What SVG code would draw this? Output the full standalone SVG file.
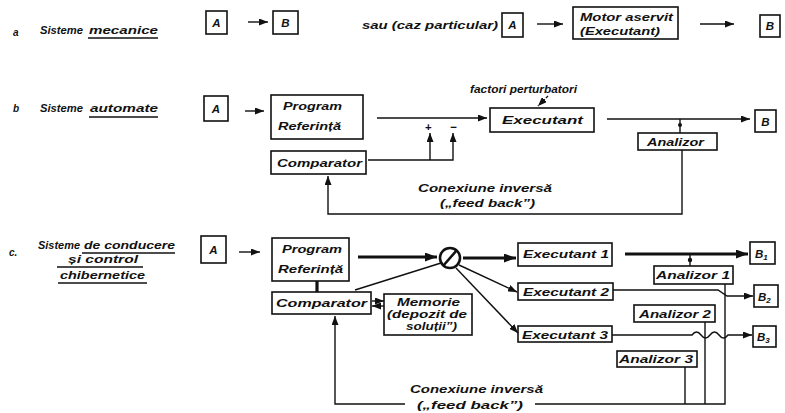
<svg xmlns="http://www.w3.org/2000/svg" width="785" height="413" viewBox="0 0 785 413">
<defs>
<style>
.t{font-family:"Liberation Sans",Arial,sans-serif;font-style:italic;font-weight:bold;font-size:11.5px;fill:#111}
.s{font-size:10px}
.m{text-anchor:middle}
.box{fill:#fff;stroke:#111;stroke-width:1.6}
.ln{fill:none;stroke:#111;stroke-width:1.4}
.th{fill:none;stroke:#111;stroke-width:3.2}
</style>
<marker id="ah" markerWidth="9" markerHeight="7" refX="9" refY="3.5" orient="auto" markerUnits="userSpaceOnUse"><path d="M0,0 L9,3.5 L0,7 z" fill="#111"/></marker>
<marker id="ahb" markerWidth="12" markerHeight="9" refX="12" refY="4.5" orient="auto" markerUnits="userSpaceOnUse"><path d="M0,0 L12,4.5 L0,9 z" fill="#111"/></marker>
</defs>
<rect width="785" height="413" fill="#fff"/>

<!-- labels -->
<g id="label-a">
<text class="t s" x="13" y="36">a</text>
<text class="t" x="40" y="34" textLength="43" lengthAdjust="spacingAndGlyphs">Sisteme</text>
<text class="t" x="89" y="34" textLength="69" lengthAdjust="spacingAndGlyphs">mecanice</text>
<line class="ln" x1="88" y1="38" x2="158" y2="38"/>
<text class="t" x="362" y="29" textLength="136" lengthAdjust="spacingAndGlyphs">sau (caz particular)</text>
</g>
<g id="label-b">
<text class="t s" x="13" y="112">b</text>
<text class="t" x="40" y="112" textLength="43" lengthAdjust="spacingAndGlyphs">Sisteme</text>
<text class="t" x="90" y="112" textLength="68" lengthAdjust="spacingAndGlyphs">automate</text>
<line class="ln" x1="89" y1="117" x2="158" y2="117"/>
</g>
<g id="label-c">
<text class="t s" x="9" y="256">c.</text>
<text class="t s" x="38" y="249" textLength="42" lengthAdjust="spacingAndGlyphs">Sisteme</text>
<text class="t s" x="84" y="249" textLength="91" lengthAdjust="spacingAndGlyphs">de conducere</text>
<line class="ln" x1="82" y1="253" x2="175" y2="253"/>
<text class="t s" x="68" y="263" textLength="70" lengthAdjust="spacingAndGlyphs">și control</text>
<line class="ln" x1="57" y1="267" x2="143" y2="267"/>
<text class="t s" x="60" y="279" textLength="85" lengthAdjust="spacingAndGlyphs">chibernetice</text>
<line class="ln" x1="58" y1="283" x2="147" y2="283"/>
</g>

<!-- row a nodes -->
<g id="a-A"><rect class="box" x="206" y="11" width="21" height="23"/><text class="t m" x="216.5" y="27">A</text></g>
<g id="a-B"><rect class="box" x="273" y="11" width="25" height="23"/><text class="t m" x="285.5" y="27">B</text></g>
<g id="a-A2"><rect class="box" x="502" y="13" width="21" height="24"/><text class="t m" x="512.5" y="29">A</text></g>
<g id="a-motor"><rect class="box" x="573" y="7" width="105" height="32"/>
<text class="t" x="580" y="21" textLength="93" lengthAdjust="spacingAndGlyphs">Motor aservit</text>
<text class="t" x="580" y="35" textLength="80" lengthAdjust="spacingAndGlyphs">(Executant)</text></g>
<g id="a-B2"><rect class="box" x="760" y="15" width="20" height="22"/><text class="t m" x="770" y="30">B</text></g>

<!-- row b nodes -->
<g id="b-A"><rect class="box" x="204" y="96" width="24" height="25"/><text class="t m" x="216" y="113">A</text></g>
<g id="b-program"><rect class="box" x="271" y="95" width="92" height="44"/>
<text class="t" x="283" y="110" textLength="59" lengthAdjust="spacingAndGlyphs">Program</text>
<text class="t" x="278" y="130" textLength="63" lengthAdjust="spacingAndGlyphs">Referință</text></g>
<g id="b-comparator"><rect class="box" x="271" y="151" width="95" height="23"/>
<text class="t" x="277" y="167" textLength="85" lengthAdjust="spacingAndGlyphs">Comparator</text></g>
<g id="b-executant"><rect class="box" x="490" y="108" width="104" height="24"/>
<text class="t" x="502" y="124" textLength="81" lengthAdjust="spacingAndGlyphs">Executant</text></g>
<g id="b-factori"><text class="t s" x="470" y="93" textLength="107" lengthAdjust="spacingAndGlyphs">factori perturbatori</text></g>
<g id="b-analizor"><rect class="box" x="638" y="133" width="79" height="17"/>
<text class="t s" x="647" y="146" textLength="57" lengthAdjust="spacingAndGlyphs">Analizor</text></g>
<g id="b-B"><rect class="box" x="755" y="110" width="21" height="22"/><text class="t m" x="765.5" y="126">B</text></g>

<!-- row c nodes -->
<g id="c-A"><rect class="box" x="201" y="236" width="25" height="27"/><text class="t m" x="213.5" y="254">A</text></g>
<g id="c-program"><rect class="box" x="272" y="238" width="77" height="43"/>
<text class="t" x="282" y="253" textLength="60" lengthAdjust="spacingAndGlyphs">Program</text>
<text class="t" x="278" y="273" textLength="65" lengthAdjust="spacingAndGlyphs">Referință</text></g>
<g id="c-comparator"><rect class="box" x="272" y="292" width="99" height="22"/>
<text class="t" x="276" y="307" textLength="91" lengthAdjust="spacingAndGlyphs">Comparator</text></g>
<g id="c-memorie"><rect class="box" x="384" y="294" width="88" height="41"/>
<text class="t s" x="397" y="306" textLength="63" lengthAdjust="spacingAndGlyphs">Memorie</text>
<text class="t s" x="387" y="318" textLength="80" lengthAdjust="spacingAndGlyphs">(depozit de</text>
<text class="t s" x="406" y="330" textLength="51" lengthAdjust="spacingAndGlyphs">soluții”)</text></g>
<g id="c-selector"><circle cx="450" cy="258" r="10" fill="#fff" stroke="#111" stroke-width="2.6"/><line x1="443" y1="266" x2="457" y2="250" stroke="#111" stroke-width="2.6"/></g>
<g id="c-exec1"><rect class="box" x="518" y="243" width="94" height="23"/>
<text class="t" x="523" y="258" textLength="86" lengthAdjust="spacingAndGlyphs">Executant 1</text></g>
<g id="c-exec2"><rect class="box" x="518" y="283" width="95" height="17"/>
<text class="t" x="523" y="296" textLength="86" lengthAdjust="spacingAndGlyphs">Executant 2</text></g>
<g id="c-exec3"><rect class="box" x="518" y="326" width="94" height="16"/>
<text class="t" x="522" y="339" textLength="86" lengthAdjust="spacingAndGlyphs">Executant 3</text></g>
<g id="c-analizor1"><rect class="box" x="654" y="266" width="79" height="18"/>
<text class="t s" x="656" y="279" textLength="74" lengthAdjust="spacingAndGlyphs">Analizor 1</text></g>
<g id="c-analizor2"><rect class="box" x="634" y="305" width="81" height="17"/>
<text class="t s" x="639" y="318" textLength="72" lengthAdjust="spacingAndGlyphs">Analizor 2</text></g>
<g id="c-analizor3"><rect class="box" x="617" y="351" width="80" height="16"/>
<text class="t s" x="619" y="363" textLength="74" lengthAdjust="spacingAndGlyphs">Analizor 3</text></g>
<g id="c-B1"><rect class="box" x="750" y="242" width="25" height="22"/><text class="t" x="755" y="258">B<tspan font-size="8" dy="2">1</tspan></text></g>
<g id="c-B2"><rect class="box" x="754" y="285" width="24" height="22"/><text class="t" x="758" y="301">B<tspan font-size="8" dy="2">2</tspan></text></g>
<g id="c-B3"><rect class="box" x="753" y="326" width="23" height="21"/><text class="t" x="757" y="341">B<tspan font-size="8" dy="2">3</tspan></text></g>

<!-- connectors -->
<g id="connectors">
<!-- row a -->
<line class="ln" x1="248" y1="22" x2="268" y2="22" marker-end="url(#ah)"/>
<line class="ln" x1="537" y1="24" x2="563" y2="24" marker-end="url(#ah)"/>
<line class="ln" x1="700" y1="24" x2="734" y2="24" marker-end="url(#ah)"/>
<!-- row b -->
<line class="ln" x1="245" y1="111" x2="264" y2="111" marker-end="url(#ah)"/>
<line class="ln" x1="377" y1="118" x2="487" y2="118" marker-end="url(#ah)"/>
<text class="t m" x="428" y="131" font-size="12">+</text>
<text class="t m" x="453" y="131" font-size="12">−</text>
<polyline class="ln" points="368,160 453,160 453,133" marker-end="url(#ah)"/>
<line class="ln" x1="430" y1="160" x2="430" y2="133" marker-end="url(#ah)"/>
<line class="ln" x1="548" y1="96" x2="538" y2="106" stroke-dasharray="3,1.5" marker-end="url(#ah)"/>
<line class="ln" x1="607" y1="119" x2="750" y2="119" marker-end="url(#ah)"/>
<line class="ln" x1="680" y1="119" x2="680" y2="133"/>
<circle cx="680" cy="125" r="2" fill="#111"/>
<polyline class="ln" points="682,150 682,214 328,214 328,176" marker-end="url(#ah)"/>
<text class="t" x="418" y="192" textLength="134" lengthAdjust="spacingAndGlyphs">Conexiune inversă</text>
<text class="t" x="440" y="207" textLength="95" lengthAdjust="spacingAndGlyphs">(„feed back”)</text>
<!-- row c -->
<line class="ln" x1="239" y1="252" x2="260" y2="252" marker-end="url(#ah)"/>
<line class="th" x1="358" y1="257" x2="437" y2="257" marker-end="url(#ahb)"/>
<line class="th" x1="317" y1="281" x2="317" y2="292"/>
<line class="ln" x1="355" y1="290" x2="441" y2="263"/>
<line class="ln" x1="372" y1="301" x2="384" y2="301" marker-end="url(#ah)" stroke-width="2"/>
<line class="ln" x1="384" y1="306" x2="372" y2="306" marker-end="url(#ah)" stroke-width="2"/>
<line class="th" x1="463" y1="258" x2="516" y2="258" marker-end="url(#ahb)"/>
<line class="ln" x1="459" y1="265" x2="517" y2="292" marker-end="url(#ah)"/>
<line class="ln" x1="456" y1="268" x2="518" y2="333" marker-end="url(#ah)"/>
<line class="th" x1="625" y1="254" x2="748" y2="254" marker-end="url(#ahb)"/>
<line class="ln" x1="690" y1="254" x2="690" y2="266"/>
<circle cx="690" cy="260" r="2.2" fill="#111"/>
<path class="ln" d="M613,290 H718 L727,296 H753" marker-end="url(#ah)"/>
<path class="ln" d="M612,335 H692 c3,-4 6,-4 9,0 c3,4 6,4 9,0 c3,-4 6,-4 9,0 c3,4 6,4 9,0 H752" marker-end="url(#ah)"/>
<polyline class="ln" points="725,284 725,404 535,404"/>
<line class="ln" x1="705" y1="322" x2="705" y2="404"/>
<line class="ln" x1="685" y1="367" x2="685" y2="404"/>
<polyline class="ln" points="405,404 335,404 335,316" marker-end="url(#ah)"/>
<text class="t" x="410" y="393" font-size="13" textLength="133" lengthAdjust="spacingAndGlyphs">Conexiune inversă</text>
<text class="t" x="417" y="409" font-size="13" textLength="106" lengthAdjust="spacingAndGlyphs">(„feed back”)</text>
</g>
</svg>
